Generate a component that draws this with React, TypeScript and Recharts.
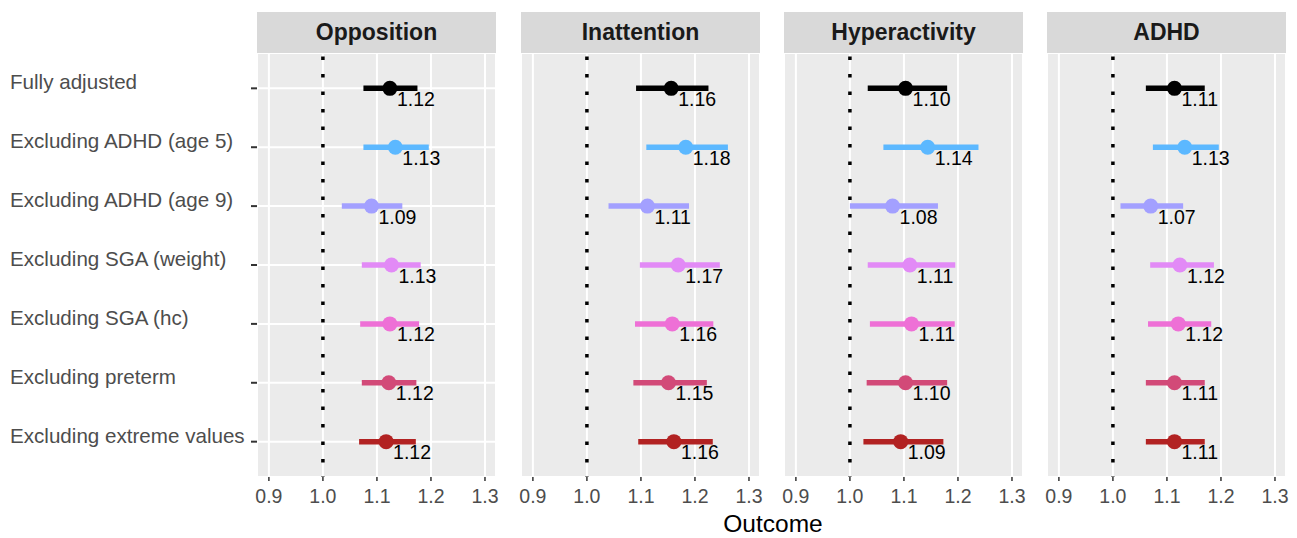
import React from "react"
import {
  ScatterChart,
  Scatter,
  XAxis,
  YAxis,
  CartesianGrid,
  ErrorBar,
  ReferenceLine,
} from "recharts"

const rowLabels = [
  "Fully adjusted",
  "Excluding ADHD (age 5)",
  "Excluding ADHD (age 9)",
  "Excluding SGA (weight)",
  "Excluding SGA (hc)",
  "Excluding preterm",
  "Excluding extreme values",
]

const rowColors = ["#000000", "#5CB8FF", "#A3A0FF", "#E28AF6", "#EE70D6", "#D24A78", "#B22222"]

const panelTitles = ["Opposition", "Inattention", "Hyperactivity", "ADHD"]

const oppositionEst = [1.124, 1.134, 1.09, 1.127, 1.124, 1.122, 1.117]
const oppositionLow = [1.075, 1.075, 1.035, 1.072, 1.069, 1.072, 1.067]
const oppositionHigh = [1.175, 1.196, 1.147, 1.181, 1.178, 1.173, 1.172]

const inattentionEst = [1.156, 1.183, 1.112, 1.169, 1.158, 1.151, 1.161]
const inattentionLow = [1.091, 1.11, 1.04, 1.098, 1.089, 1.086, 1.095]
const inattentionHigh = [1.225, 1.261, 1.189, 1.246, 1.234, 1.222, 1.233]

const hyperactivityEst = [1.103, 1.144, 1.079, 1.111, 1.114, 1.103, 1.094]
const hyperactivityLow = [1.033, 1.062, 1.0, 1.033, 1.037, 1.031, 1.025]
const hyperactivityHigh = [1.18, 1.238, 1.163, 1.195, 1.194, 1.18, 1.173]

const adhdEst = [1.114, 1.133, 1.07, 1.124, 1.121, 1.114, 1.114]
const adhdLow = [1.061, 1.074, 1.014, 1.069, 1.065, 1.061, 1.061]
const adhdHigh = [1.17, 1.196, 1.13, 1.187, 1.182, 1.17, 1.17]

const xTicks = [0.9, 1.0, 1.1, 1.2, 1.3]
const yTicks = [1, 2, 3, 4, 5, 6, 7]

const panelSeries = [
  { est: oppositionEst, low: oppositionLow, high: oppositionHigh },
  { est: inattentionEst, low: inattentionLow, high: inattentionHigh },
  { est: hyperactivityEst, low: hyperactivityLow, high: hyperactivityHigh },
  { est: adhdEst, low: adhdLow, high: adhdHigh },
]

const PANEL_LEFTS = [257, 521, 784, 1047]
const PANEL_W = 239
const PLOT_TOP = 53
const CHART_H = 485
const X_AXIS_H = 61
const PAD = 14

const FONT = "'Liberation Sans', Arial, Helvetica, sans-serif"

const renderYTick = (props: any) => {
  const { y, payload } = props
  return (
    <g>
      <line x1={251} x2={257} y1={y} y2={y} stroke="#333333" strokeWidth={2} />
      <text x={10} y={y + 1} fontSize={20.6} fill="#4D4D4D">
        {rowLabels[payload.value - 1]}
      </text>
    </g>
  )
}

function Panel({ idx }: { idx: number }) {
  const first = idx === 0
  const left = PANEL_LEFTS[idx]
  const s = panelSeries[idx]
  const chartLeft = first ? 0 : left - PAD
  const width = first ? left + PANEL_W + PAD : PANEL_W + 2 * PAD

  return (
    <>
      <div
        style={{
          position: "absolute",
          left,
          top: 12,
          width: PANEL_W,
          height: PLOT_TOP - 12,
          background: "#D9D9D9",
          display: "flex",
          alignItems: "center",
          justifyContent: "center",
          fontWeight: 700,
          fontSize: 23,
          color: "#1A1A1A",
        }}
      >
        {panelTitles[idx]}
      </div>
      <div style={{ position: "absolute", left: chartLeft, top: PLOT_TOP }}>
        <ScatterChart
          width={width}
          height={CHART_H}
          margin={{ top: 0, right: PAD, bottom: 0, left: first ? 0 : PAD }}
        >
          <CartesianGrid fill="#EBEBEB" stroke="#FFFFFF" strokeWidth={2} />
          <XAxis
            type="number"
            dataKey="x"
            domain={[0.878, 1.3204]}
            allowDataOverflow
            ticks={xTicks}
            interval={0}
            tickFormatter={(v: number) => v.toFixed(1)}
            axisLine={false}
            tickSize={4}
            tickMargin={8}
            tickLine={{ stroke: "#333333", strokeWidth: 1.5 }}
            tick={{ fontSize: 19.5, fill: "#4D4D4D" }}
            height={X_AXIS_H}
          />
          <YAxis
            type="number"
            dataKey="row"
            domain={[0.4, 7.6]}
            reversed
            ticks={yTicks}
            interval={0}
            hide={!first}
            width={first ? left : 0}
            axisLine={false}
            tickLine={false}
            tick={first ? renderYTick : false}
          />
          <ReferenceLine
            x={1}
            stroke="#000000"
            strokeWidth={3.5}
            strokeDasharray="3.5 14"
            strokeDashoffset={3}
            ifOverflow="visible"
          />
          {rowLabels.map((_, i) => {
            const color = rowColors[i]
            const data = [
              {
                x: s.est[i],
                row: i + 1,
                err: [s.est[i] - s.low[i], s.high[i] - s.est[i]],
                label: s.est[i].toFixed(2),
              },
            ]
            return (
              <Scatter
                key={i}
                data={data}
                fill={color}
                isAnimationActive={false}
                shape={(p: any) => (
                  <g>
                    <circle cx={p.cx} cy={p.cy} r={7.5} fill={color} />
                    <text x={p.cx + 7} y={p.cy + 17.5} fontSize={19.5} fill="#000000">
                      {p.payload.label}
                    </text>
                  </g>
                )}
              >
                <ErrorBar dataKey="err" direction="x" width={0} stroke={color} strokeWidth={5.5} />
              </Scatter>
            )
          })}
        </ScatterChart>
      </div>
    </>
  )
}

export default function App() {
  return (
    <div
      style={{
        position: "fixed",
        left: 0,
        top: 0,
        width: 1297,
        height: 538,
        background: "#FFFFFF",
        fontFamily: FONT,
      }}
    >
      {panelTitles.map((_, i) => (
        <Panel key={i} idx={i} />
      ))}
      <div
        style={{
          position: "absolute",
          left: 673,
          top: 512,
          width: 200,
          textAlign: "center",
          fontSize: 24.5,
          lineHeight: "24px",
          color: "#000000",
        }}
      >
        Outcome
      </div>
    </div>
  )
}
